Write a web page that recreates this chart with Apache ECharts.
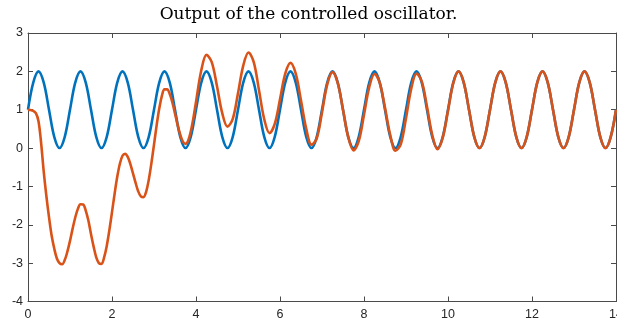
<!DOCTYPE html>
<html>
<head>
<meta charset="utf-8">
<script src="https://cdn.jsdelivr.net/npm/echarts@6/dist/echarts.min.js"></script>
<style>
html,body{margin:0;padding:0;background:#fff;}
#chart{width:617px;height:327px;}
</style>
</head>
<body>
<div id="chart"></div>
<script>
// Sample spacings in time (s)
const dtFine = 0.0625;   // used for the transient part of the controlled output (t = 0..4)
const dt = 0.125;        // used elsewhere

// Reference oscillator (blue) at dt spacing, t = 0..14
const reference = [
  1, 1.707, 2, 1.707, 1, 0.293, 0, 0.293,
  1, 1.707, 2, 1.707, 1, 0.293, 0, 0.293,
  1, 1.707, 2, 1.707, 1, 0.293, 0, 0.293,
  1, 1.707, 2, 1.707, 1, 0.293, 0, 0.293,
  1, 1.707, 2, 1.707, 1, 0.293, 0, 0.293,
  1, 1.707, 2, 1.707, 1, 0.293, 0, 0.293,
  1, 1.707, 2, 1.707, 1, 0.293, 0, 0.293,
  1, 1.707, 2, 1.707, 1, 0.293, 0, 0.293,
  1, 1.707, 2, 1.707, 1, 0.293, 0, 0.293,
  1, 1.707, 2, 1.707, 1, 0.293, 0, 0.293,
  1, 1.707, 2, 1.707, 1, 0.293, 0, 0.293,
  1, 1.707, 2, 1.707, 1, 0.293, 0, 0.293,
  1, 1.707, 2, 1.707, 1, 0.293, 0, 0.293,
  1, 1.707, 2, 1.707, 1, 0.293, 0, 0.293,
  1
];

// Controlled output (orange), transient part, read at dtFine spacing, t = 0..4
const controlledEarly = [
  1.0, 0.99, 0.97, 0.91, 0.70, 0.13, -0.62, -1.25,
  -1.80, -2.28, -2.62, -2.88, -3.0, -3.03, -2.92, -2.70,
  -2.42, -2.10, -1.81, -1.585, -1.465, -1.47, -1.63, -1.89,
  -2.24, -2.57, -2.85, -3.0, -3.02, -2.85, -2.55, -2.14,
  -1.67, -1.19, -0.75, -0.41, -0.20, -0.15, -0.23, -0.42,
  -0.66, -0.91, -1.13, -1.26, -1.28, -1.14, -0.83, -0.40,
  0.09, 0.59, 1.03, 1.36, 1.53, 1.53, 1.41, 1.19,
  0.90, 0.60, 0.35, 0.17, 0.11, 0.19, 0.43, 0.78,
  1.20
];

// Controlled output (orange), later part, read at dt spacing, t = 4.125..14
const controlledLate = [
  2.02, 2.43, 2.24, 1.61, 0.91, 0.56, 0.76,
  1.43, 2.15, 2.49, 2.24, 1.51, 0.75, 0.39, 0.63,
  1.27, 1.94, 2.22, 1.94, 1.24, 0.50, 0.09, 0.25,
  0.93, 1.66, 1.98, 1.69, 1.0, 0.28, -0.06, 0.18,
  0.87, 1.59, 1.93, 1.70, 1.05, 0.34, -0.07, 0.10,
  0.78, 1.55, 1.94, 1.74, 1.08, 0.34, -0.03, 0.27,
  0.97, 1.69, 2.0, 1.707, 1, 0.293, 0, 0.293,
  1, 1.707, 2, 1.707, 1, 0.293, 0, 0.293,
  1, 1.707, 2, 1.707, 1, 0.293, 0, 0.293,
  1, 1.707, 2, 1.707, 1, 0.293, 0, 0.293,
  1
];
const lateStart = 4.125;

const xTicks = [0, 2, 4, 6, 8, 10, 12, 14];
const yTicks = [-4, -3, -2, -1, 0, 1, 2, 3];
const titleText = 'Output of the controlled oscillator.';

const refPairs = reference.map((v, i) => [i * dt, v]);
const ctrlPairs = controlledEarly.map((v, i) => [i * dtFine, v])
  .concat(controlledLate.map((v, i) => [lateStart + i * dt, v]));

const axisColor = '#4a4a4a';
const labelStyle = {color: '#262626', fontFamily: 'Liberation Sans, Arial, sans-serif', fontSize: 12.5};

function axisCommon(extra) {
  return Object.assign({
    type: 'value',
    axisLine: {show: true, onZero: false, lineStyle: {color: axisColor, width: 1}},
    axisTick: {show: true, inside: true, length: 5, lineStyle: {color: axisColor}},
    splitLine: {show: false}
  }, extra);
}

const chart = echarts.init(document.getElementById('chart'), null, {renderer: 'canvas'});
chart.setOption({
  animation: false,
  backgroundColor: '#ffffff',
  title: {
    text: titleText,
    left: 'center',
    top: 1,
    textStyle: {fontFamily: 'DejaVu Serif, serif', fontWeight: 'normal', fontSize: 17, color: '#000'}
  },
  grid: {left: 28, right: 1, top: 33, bottom: 25.5, containLabel: false, outerBoundsMode: 'none'},
  xAxis: [
    axisCommon({min: xTicks[0], max: xTicks[xTicks.length - 1], interval: 2, position: 'bottom',
      axisLabel: Object.assign({margin: 7, showMaxLabel: true}, labelStyle)}),
    axisCommon({min: xTicks[0], max: xTicks[xTicks.length - 1], interval: 2, position: 'top',
      axisLabel: {show: false}})
  ],
  yAxis: [
    axisCommon({min: yTicks[0], max: yTicks[yTicks.length - 1], interval: 1, position: 'left',
      axisLabel: Object.assign({margin: 5}, labelStyle)}),
    axisCommon({min: yTicks[0], max: yTicks[yTicks.length - 1], interval: 1, position: 'right',
      axisLabel: {show: false}})
  ],
  series: [
    {
      name: 'reference', type: 'line', data: refPairs,
      smooth: 0.35, showSymbol: false, symbol: 'none',
      lineStyle: {color: '#0072BD', width: 2.6},
      xAxisIndex: 0, yAxisIndex: 0
    },
    {
      name: 'controlled', type: 'line', data: ctrlPairs,
      smooth: 0.35, showSymbol: false, symbol: 'none',
      lineStyle: {color: '#D95319', width: 2.6},
      xAxisIndex: 0, yAxisIndex: 0
    }
  ]
});
</script>
</body>
</html>
